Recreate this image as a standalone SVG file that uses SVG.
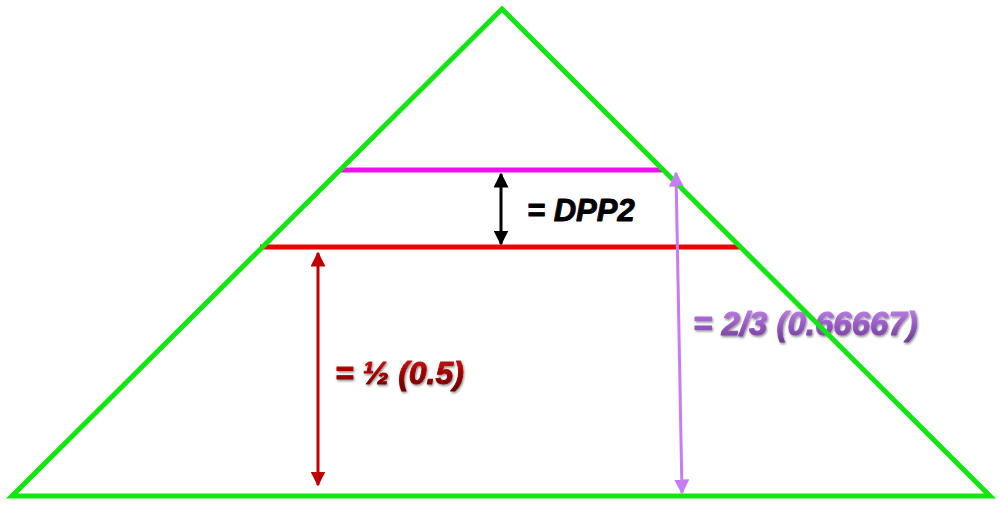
<svg xmlns="http://www.w3.org/2000/svg" width="1000" height="506" viewBox="0 0 1000 506">
<style>
.lbl{font-family:"Liberation Sans",Arial,sans-serif;font-weight:bold;font-style:italic;stroke-width:0.9;stroke-linejoin:round}
</style>
<defs>
<marker id="hb" viewBox="0 0 10 10" refX="9" refY="5" markerWidth="5" markerHeight="5" orient="auto-start-reverse" markerUnits="strokeWidth"><path d="M0,0 L10,5 L0,10 z" fill="#000"/></marker>
<marker id="hr" viewBox="0 0 10 10" refX="9" refY="5" markerWidth="5" markerHeight="5" orient="auto-start-reverse" markerUnits="strokeWidth"><path d="M0,0 L10,5 L0,10 z" fill="#c00000"/></marker>
<marker id="hp" viewBox="0 0 10 10" refX="9" refY="5" markerWidth="5" markerHeight="5" orient="auto-start-reverse" markerUnits="strokeWidth"><path d="M0,0 L10,5 L0,10 z" fill="#c77cf5"/></marker>
<linearGradient id="gr" x1="0" y1="0" x2="0" y2="1"><stop offset="0" stop-color="#d01818"/><stop offset="0.5" stop-color="#a00000"/><stop offset="1" stop-color="#6a0000"/></linearGradient>
<linearGradient id="gp" x1="0" y1="0" x2="0" y2="1"><stop offset="0" stop-color="#c48ae8"/><stop offset="0.5" stop-color="#9a5cc8"/><stop offset="1" stop-color="#6e3c94"/></linearGradient>
<filter id="sh" x="-5%" y="-20%" width="110%" height="140%"><feDropShadow dx="1" dy="1.5" stdDeviation="0.8" flood-color="#000" flood-opacity="0.45"/></filter>
</defs>
<g id="labels">
<text id="lbl-dpp2" class="lbl" x="527" y="221" font-size="31" fill="#000" stroke="#000">= DPP2</text>
<text id="lbl-half" class="lbl" x="335" y="384" font-size="32" fill="url(#gr)" stroke="url(#gr)" filter="url(#sh)">= ½ (0.5)</text>
<text id="lbl-twothirds" class="lbl" x="693" y="335" font-size="33" fill="url(#gp)" stroke="url(#gp)" filter="url(#sh)">= 2/3 (0.66667)</text>
</g>
<g id="lines">
<line id="line-magenta" x1="340" y1="170" x2="662" y2="170" stroke="#ee11ee" stroke-width="5"/>
<line id="line-red" x1="260" y1="247" x2="741" y2="247" stroke="#ee0000" stroke-width="5"/>
</g>
<g id="triangle">
<path d="M502,9 L990,496 L12,496 Z" fill="none" stroke="#11e611" stroke-width="5" stroke-linejoin="miter"/>
</g>
<g id="connectors">
<line x1="501" y1="174" x2="501" y2="244" stroke="#000" stroke-width="3" marker-start="url(#hb)" marker-end="url(#hb)"/>
<line x1="318" y1="253" x2="318" y2="485" stroke="#c00000" stroke-width="3" marker-start="url(#hr)" marker-end="url(#hr)"/>
<line x1="676" y1="173" x2="682" y2="493" stroke="#c77cf5" stroke-width="3" marker-start="url(#hp)" marker-end="url(#hp)"/>
</g>
</svg>
